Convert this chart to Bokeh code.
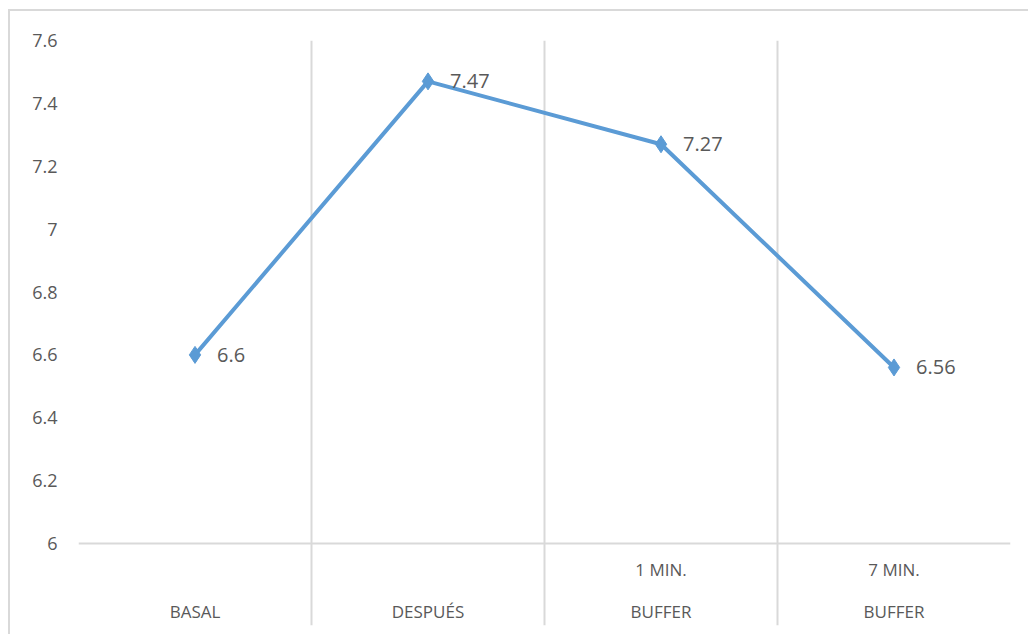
import numpy as np
from bokeh.plotting import figure
from bokeh.models import Range1d, FixedTicker, Span, ColumnDataSource
from bokeh.layouts import column
from bokeh.core.properties import value
from bokeh.embed import file_html
from bokeh.resources import INLINE

categories = ["BASAL", "DESPUÉS", "1 MIN. BUFFER", "7 MIN. BUFFER"]
category_labels = ["\nBASAL", "\nDESPUÉS", "1 MIN.\nBUFFER", "7 MIN.\nBUFFER"]
ph_values = [6.6, 7.47, 7.27, 6.56]
value_labels = ["6.6", "7.47", "7.27", "6.56"]
y_ticks = [6.0, 6.2, 6.4, 6.6, 6.8, 7.0, 7.2, 7.4, 7.6]
y_tick_labels = ["6", "6.2", "6.4", "6.6", "6.8", "7", "7.2", "7.4", "7.6"]

FONT = "Open Sans"
TXT = "#595959"
GRID = "#d9d9d9"
BLUE = "#5b9bd5"

n = len(categories)
xs = list(np.arange(n) + 0.5)

# frame spans y from 7.6 (top) down below the 6 baseline to hold category labels
frame_h = 585
base_px = 503
y_top = y_ticks[-1]
y_bottom = y_top - (y_ticks[-1] - y_ticks[0]) * frame_h / base_px

p = figure(width=1018, height=623, output_backend="svg", toolbar_location=None,
           x_range=Range1d(0, n), y_range=Range1d(y_bottom, y_top),
           min_border_left=68, min_border_top=29, min_border_right=18, min_border_bottom=9)
p.outline_line_color = None
p.background_fill_color = "white"
p.border_fill_color = "white"

# grid: vertical separators at category boundaries only
p.xgrid.ticker = FixedTicker(ticks=list(range(n + 1)))
p.xgrid.grid_line_color = GRID
p.xgrid.grid_line_width = 2
p.ygrid.grid_line_color = None

# baseline at y = 6
p.add_layout(Span(location=y_ticks[0], dimension="width", line_color=GRID, line_width=2))

# y axis
p.yaxis.ticker = FixedTicker(ticks=y_ticks)
p.yaxis.major_label_overrides = {t: l for t, l in zip(y_ticks, y_tick_labels)}
p.yaxis.axis_line_color = None
p.yaxis.major_tick_line_color = None
p.yaxis.major_tick_out = 0
p.yaxis.major_tick_in = 0
p.yaxis.minor_tick_line_color = None
p.yaxis.major_label_standoff = 21
p.yaxis.major_label_text_font = FONT
p.yaxis.major_label_text_font_size = "18px"
p.yaxis.major_label_text_color = TXT

# x axis (labels drawn inside the frame below the baseline)
p.xaxis.ticker = FixedTicker(ticks=xs)
p.xaxis.major_label_overrides = {x: l for x, l in zip(xs, category_labels)}
p.xaxis.axis_line_color = None
p.xaxis.major_tick_line_color = None
p.xaxis.major_tick_out = 0
p.xaxis.major_tick_in = 0
p.xaxis.minor_tick_line_color = None
p.xaxis.major_label_standoff = -68
p.xaxis.major_label_text_font = FONT
p.xaxis.major_label_text_font_size = "17px"
p.xaxis.major_label_text_color = TXT
p.xaxis.major_label_text_line_height = 1.85

src = ColumnDataSource(dict(x=xs, y=ph_values, lab=value_labels))
p.line("x", "y", source=src, line_color=BLUE, line_width=4)
p.scatter("x", "y", source=src, marker="diamond", size=17, fill_color=BLUE, line_color=BLUE)
p.text("x", "y", text="lab", source=src, x_offset=22, text_align="left", text_baseline="middle",
       text_font=value(FONT), text_font_size="20px", text_color=TXT)

layout = column(p, styles={"margin-left": "8px", "margin-top": "9px",
                           "border-left": "2px solid #d9d9d9", "border-top": "2px solid #d9d9d9"})

open("out.html", "w").write(file_html(layout, INLINE))
